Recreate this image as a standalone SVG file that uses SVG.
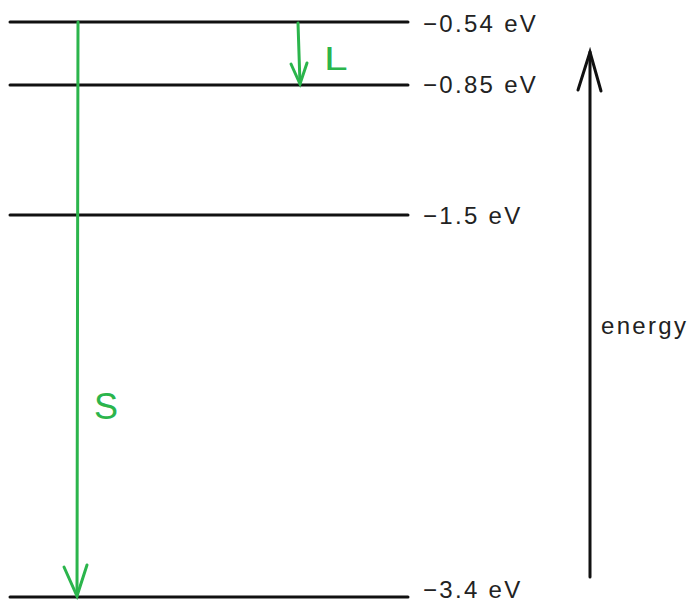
<svg xmlns="http://www.w3.org/2000/svg" width="698" height="604" viewBox="0 0 698 604">
<style>
.lvl{stroke:#111;stroke-width:3;stroke-linecap:round;fill:none}
.g{stroke:#2bb54c;stroke-width:3;stroke-linecap:round;fill:none}
.k{stroke:#111;stroke-width:3;stroke-linecap:round;fill:none}
.t{font-family:"Liberation Sans",Arial,sans-serif;font-size:24px;letter-spacing:2.3px;fill:#222}
.gt{font-family:"Liberation Sans",Arial,sans-serif;fill:#2bb54c}
</style>
<rect width="698" height="604" fill="#fff"/>
<g id="level1"><line class="lvl" x1="10" y1="22" x2="408" y2="22"/><text class="t" x="423" y="32">−0.54 eV</text></g>
<g id="level2"><line class="lvl" x1="10" y1="85" x2="408" y2="85"/><text class="t" x="423" y="93">−0.85 eV</text></g>
<g id="level3"><line class="lvl" x1="10" y1="215" x2="408" y2="215"/><text class="t" x="423" y="224">−1.5 eV</text></g>
<g id="level4"><line class="lvl" x1="10" y1="597" x2="408" y2="597"/><text class="t" x="423" y="598">−3.4 eV</text></g>
<g id="connectors">
<line class="g" x1="78" y1="22" x2="77" y2="596"/>
<polyline class="g" points="64,567 77,596 87,565"/>
<line class="g" x1="298" y1="23" x2="300" y2="84"/>
<polyline class="g" points="291,64 300,84 307,63"/>
<line class="k" x1="590" y1="577" x2="590" y2="52"/>
<polyline class="k" points="578,90 590,52 601,91"/>
</g>
<g id="labelS"><text class="gt" x="94" y="419" font-size="36">S</text></g>
<g id="labelL"><text class="gt" x="324" y="70" font-size="34" transform="translate(324 70) scale(1.25 1) translate(-324 -70)">L</text></g>
<g id="energy"><text class="t" x="601" y="334" font-size="25" letter-spacing="2.5">energy</text></g>
</svg>
